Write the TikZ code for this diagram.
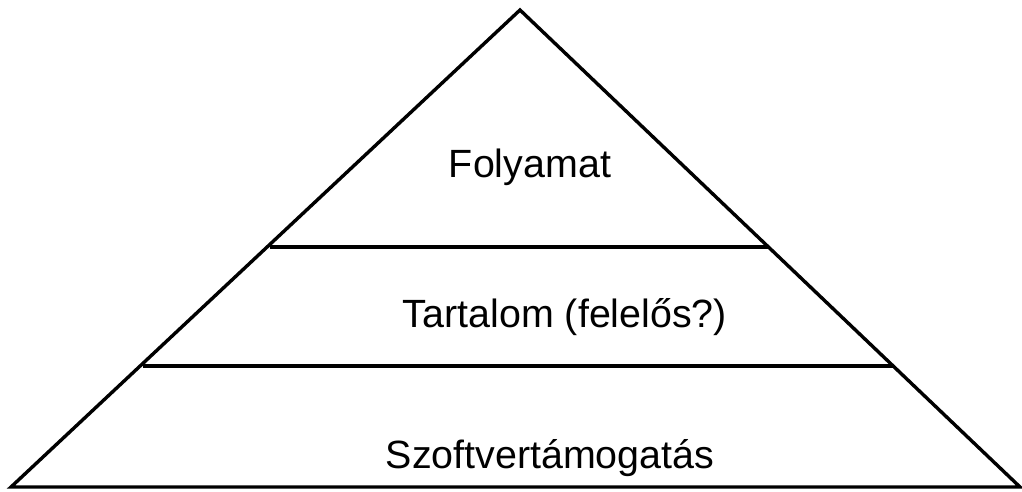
\documentclass[tikz,border=0pt]{standalone}
\usepackage{fontspec}
\setmainfont{Liberation Sans}
\begin{document}
\begin{tikzpicture}[x=1pt,y=-1pt,
  edge/.style={line width=3.4pt,line join=miter},
  lbl/.style={anchor=base,inner sep=0pt,font=\fontsize{39.4}{46}\selectfont}]
\useasboundingbox (0,0) rectangle (1022,491);
\coordinate (apex) at (520,10);
\coordinate (bl) at (11,487);
\coordinate (br) at (1020,487);
\draw[edge] (bl) -- (apex) -- (br) -- cycle;
\coordinate (l1a) at (270,247);
\coordinate (l1b) at (769,247);
\coordinate (l2a) at (143,366);
\coordinate (l2b) at (893,366);
\draw[edge] (l1a) -- (l1b);
\draw[edge] (l2a) -- (l2b);
\node[lbl] (t1) at (530,177) {Folyamat};
\node[lbl] (t2) at (565,327) {Tartalom (felelős?)};
\node[lbl] (t3) at (550,468) {Szoftvertámogatás};
\end{tikzpicture}
\end{document}
